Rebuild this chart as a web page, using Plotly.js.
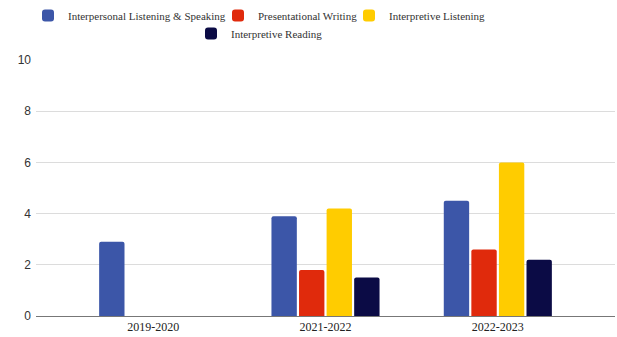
<!DOCTYPE html>
<html><head><meta charset="utf-8">
<script src="https://cdn.plot.ly/plotly-3.0.1.min.js"></script>
<style>html,body{margin:0;padding:0;background:#fff;}#chart{width:617px;height:337px;}</style>
</head><body><div id="chart"></div>
<script>
const categories = ["2019-2020", "2021-2022", "2022-2023"];
const seriesNames = ["Interpersonal Listening & Speaking", "Presentational Writing", "Interpretive Listening", "Interpretive Reading"];
const interpersonal = [2.9, 3.9, 4.5];
const presentational = [null, 1.8, 2.6];
const interpretiveListening = [null, 4.2, 6.0];
const interpretiveReading = [null, 1.5, 2.2];
const yTicks = [0, 2, 4, 6, 8, 10];

const colors = ["#3C56A8", "#E02A0C", "#FFCC00", "#0B0B45"];
const values = [interpersonal, presentational, interpretiveListening, interpretiveReading];
const legendIds = ["legend", "legend2", "legend3", "legend4"];
const legendX = [28, 218, 349, 191];
const legendY = [0, 0, 0, 18];

const data = values.map((v, i) => ({
  type: "bar",
  name: seriesNames[i],
  x: categories,
  y: v,
  marker: {color: colors[i]},
  legend: legendIds[i],
  hoverinfo: "none"
}));

const legendFont = {family: "Liberation Serif, Times New Roman, serif", size: 11, color: "#333"};
const layout = {
  width: 617, height: 337,
  margin: {l: 36, r: 2, t: 60, b: 21},
  paper_bgcolor: "#fff", plot_bgcolor: "#fff",
  barmode: "group",
  bargap: 0.36,
  bargroupgap: 0.08,
  barcornerradius: 2,
  xaxis: {
    type: "category",
    range: [-0.68, 2.68],
    showgrid: false,
    showline: true, linecolor: "#777", linewidth: 1,
    ticks: "",
    tickfont: {family: "Liberation Serif, Times New Roman, serif", size: 12, color: "#222"},
    fixedrange: true
  },
  yaxis: {
    range: [0, 10],
    tickvals: yTicks,
    ticktext: yTicks.map(String),
    gridcolor: "#dcdcdc", gridwidth: 1,
    zeroline: false,
    ticks: "",
    ticklabelstandoff: 4,
    tickfont: {family: "Liberation Sans, Arial, sans-serif", size: 12, color: "#333"},
    fixedrange: true
  },
  showlegend: true
};
legendIds.forEach((id, i) => {
  layout[id] = {
    orientation: "h", xref: "container", yref: "container",
    x: legendX[i] / 617, xanchor: "left",
    y: 1 - (1 + legendY[i]) / 337, yanchor: "top",
    font: legendFont, itemclick: false, itemdoubleclick: false,
    bgcolor: "rgba(0,0,0,0)"
  };
});
Plotly.newPlot("chart", data, layout, {displayModeBar: false, staticPlot: true});
</script>
</body></html>
